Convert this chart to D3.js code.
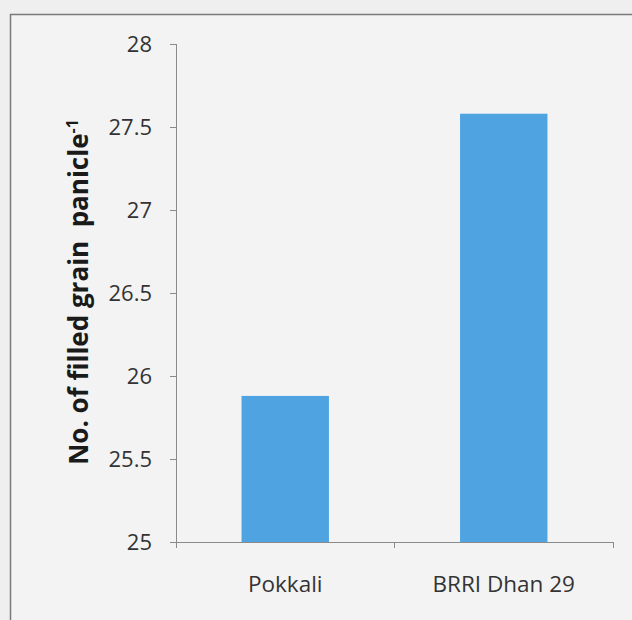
<!DOCTYPE html>
<meta charset="utf-8">
<script src="https://cdn.jsdelivr.net/npm/d3@7/dist/d3.min.js"></script>
<style>
body { margin: 0; background: #efefef; }
.axis path, .axis line { stroke: #8a8a8a; stroke-width: 1; shape-rendering: crispEdges; }
.axis text { fill: #333; font-family: "Open Sans", sans-serif; font-size: 22px; }
.axis text.cat { font-size: 22.5px; }
.ytitle { font-family: "Open Sans", sans-serif; font-weight: bold; font-size: 26px; fill: #1a1a1a; }
</style>
<body>
<div id="chart"></div>
<script>
// data
const categories = ["Pokkali", "BRRI Dhan 29"];
const values = [25.88, 27.58];
const yTicks = [25, 25.5, 26, 26.5, 27, 27.5, 28];

const width = 632, height = 620;
const plot = {left: 176, right: 613, top: 44, bottom: 542};

const svg = d3.select("#chart").append("svg")
    .attr("width", width)
    .attr("height", height);

// frame
svg.append("rect")
    .attr("x", 10.5).attr("y", 14.5)
    .attr("width", 640).attr("height", 640)
    .attr("fill", "#f3f3f3")
    .attr("stroke", "#7a7a7a")
    .attr("stroke-width", 1.5);

//----------------------------SCALES----------------------------//
const x = d3.scaleBand()
    .domain(categories)
    .range([plot.left, plot.right])
    .paddingInner(0.6)
    .paddingOuter(0.3);

const y = d3.scaleLinear()
    .domain([25, 28])
    .range([plot.bottom, plot.top]);

//-----------------------------BARS-----------------------------//
svg.selectAll("rect.bar")
    .data(categories)
    .enter()
    .append("rect")
    .attr("class", "bar")
    .attr("x", d => x(d))
    .attr("width", x.bandwidth())
    .attr("y", (d, i) => y(values[i]))
    .attr("height", (d, i) => y(25) - y(values[i]))
    .attr("fill", "#4fa3e1");

//-----------------------------AXES-----------------------------//
const yAxis = d3.axisLeft(y)
    .tickValues(yTicks)
    .tickSize(6)
    .tickPadding(18)
    .tickFormat(d3.format("~g"));

svg.append("g")
    .attr("class", "axis")
    .attr("transform", "translate(" + plot.left + ",0)")
    .call(yAxis)
    .call(g => g.select(".domain").attr("d", "M0," + plot.top + "V" + plot.bottom));

// x axis: line with ticks between categories, labels under centres
const step = x.step();
const xTickPos = [plot.left, plot.left + step, plot.left + 2 * step];
const gx = svg.append("g").attr("class", "axis");
gx.append("path")
    .attr("class", "domain")
    .attr("d", "M" + plot.left + "," + plot.bottom + "H" + (plot.left + 2 * step));
gx.selectAll("line")
    .data(xTickPos)
    .enter()
    .append("line")
    .attr("x1", d => d).attr("x2", d => d)
    .attr("y1", plot.bottom).attr("y2", plot.bottom + 6);
gx.selectAll("text")
    .data(categories)
    .enter()
    .append("text")
    .attr("class", "cat")
    .attr("x", d => x(d) + x.bandwidth() / 2)
    .attr("y", 592)
    .attr("text-anchor", "middle")
    .text(d => d);

// y title
const title = svg.append("text")
    .attr("class", "ytitle")
    .attr("transform", "translate(88,292) rotate(-90)")
    .attr("text-anchor", "middle");
title.append("tspan").text("No. of filled grain\u00a0 panicle");
title.append("tspan").attr("dy", -10).attr("font-size", "16px").text("-1");
</script>
</body>
